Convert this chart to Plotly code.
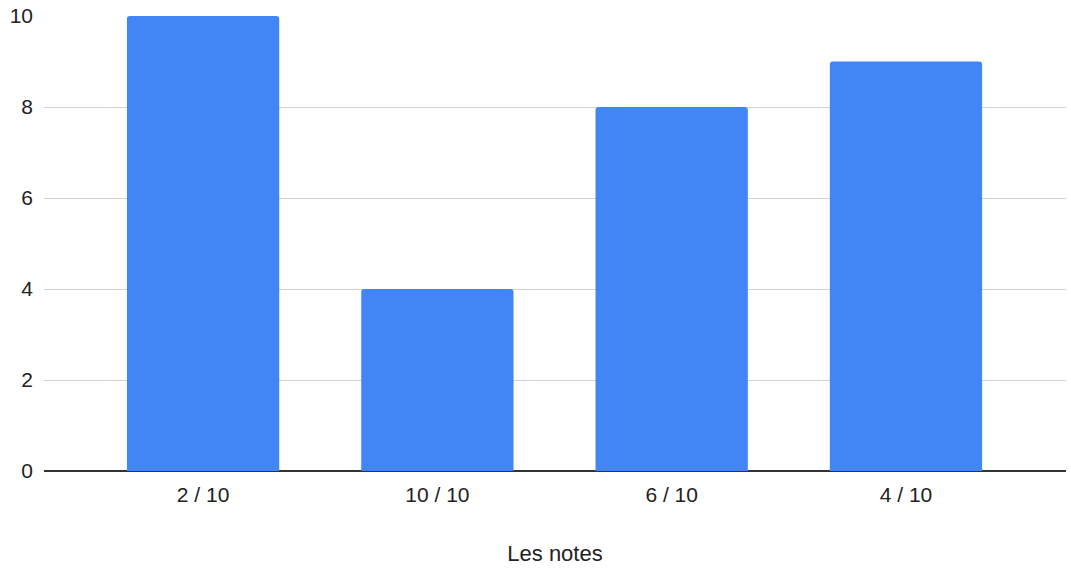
import plotly.graph_objects as go

# Scores tallied per grade
categories = ["2 / 10", "10 / 10", "6 / 10", "4 / 10"]
counts = [10, 4, 8, 9]
y_ticks = [0, 2, 4, 6, 8, 10]

FONT = "Arial, 'Liberation Sans', sans-serif"

fig = go.Figure(
    go.Bar(
        x=list(range(len(categories))),
        y=counts,
        width=0.65,
        marker=dict(color="#4285F4", line=dict(width=0), cornerradius=3),
        hoverinfo="skip",
    )
)

fig.update_layout(
    width=1071,
    height=568,
    margin=dict(l=44, r=5, t=16, b=97),
    paper_bgcolor="white",
    plot_bgcolor="white",
    font=dict(family=FONT, size=21, color="#222222"),
    showlegend=False,
)

fig.update_xaxes(
    range=[-0.679, 3.683],
    tickmode="array",
    tickvals=list(range(len(categories))),
    ticktext=categories,
    showgrid=False,
    zeroline=False,
    showline=False,
    ticks="",
    ticklabelstandoff=9,
    tickfont=dict(family=FONT, size=21, color="#222222"),
    title=dict(text="Les notes", font=dict(family=FONT, size=22, color="#222222"), standoff=40),
)

fig.update_yaxes(
    range=[0, 10],
    tickmode="array",
    tickvals=y_ticks,
    showgrid=True,
    gridcolor="#d3d3d3",
    gridwidth=1,
    zeroline=True,
    zerolinecolor="#333333",
    zerolinewidth=1.5,
    ticks="",
    ticklabelstandoff=10,
    tickfont=dict(family=FONT, size=21, color="#222222"),
)

fig.write_html("out.html")
